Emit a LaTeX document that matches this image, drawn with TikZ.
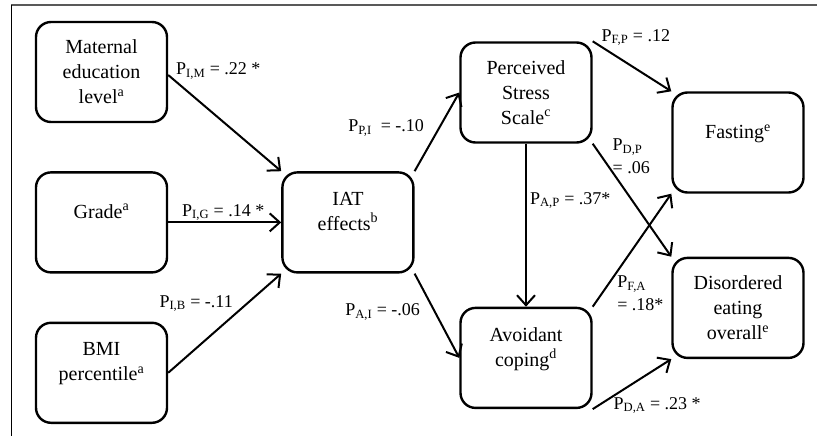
\documentclass[tikz,border=0pt]{standalone}
\usepackage{fontspec}
\setmainfont{Liberation Serif}
\usetikzlibrary{arrows.meta,positioning}

\begin{document}
\begin{tikzpicture}[
    x=1pt, y=1pt,
    >={Straight Barb[length=10pt, width=18pt]},
    link/.style={->, line width=2pt},
    var/.style={
        draw,
        rounded corners=15pt,
        align=center,
        minimum width=131pt,
        minimum height=100pt,
        inner sep=2pt,
        line width=2.4pt,
        font=\fontsize{20}{25}\selectfont
    },
    raised/.style={
        var,
        text depth=22pt
    },
    coef/.style={
        inner sep=0pt,
        align=left,
        font=\fontsize{18}{23}\selectfont
    }
]
\useasboundingbox (0,0) rectangle (817,-436);

% frame
\draw[black!65, line width=1.8pt] (11,-5) -- (817,-5);
\draw[line width=1pt] (11.5,-5) -- (11.5,-436);

% predictors
\node[var] (mat) at (101.5,-72) {Maternal\\education\\level\textsuperscript{a}};
\node[raised, below=48pt of mat] (grade) {Grade\textsuperscript{a}};
\node[raised, below=48pt of grade] (bmi) {BMI\\percentile\textsuperscript{a}};

% mediators
\node[raised, right=113pt of grade] (iat) {IAT\\effects\textsuperscript{b}};
\node[var] (pss) at (526,-92.5) {Perceived\\Stress\\Scale\textsuperscript{c}};
\node[raised, below=163pt of pss] (avoid) {Avoidant\\coping\textsuperscript{d}};

% outcomes
\node[raised] (fast) at (738,-142.5) {Fasting\textsuperscript{e}};
\node[var, below=63pt of fast] (dis) {Disordered\\eating\\overall\textsuperscript{e}};

% paths into IAT
\draw[link] ([yshift=-3pt]mat.east) --
node[coef, pos=0, anchor=base west, xshift=7pt] {P\textsubscript{I,M} = .22 *}
(iat.north west);
\draw[link] (grade) --
node[coef, pos=0, anchor=base west, xshift=13pt, yshift=6pt] {P\textsubscript{I,G} = .14 *}
(iat);
\draw[link] (bmi.east) --
node[coef, pos=0.66, anchor=base east, xshift=-9pt] {P\textsubscript{I,B} = -.11}
(iat.south west);

% paths out of IAT
\draw[link] (iat.north east) --
node[coef, pos=0.5, anchor=base east, xshift=-12pt] {P\textsubscript{P,I}\ \ = -.10}
(pss.west);
\draw[link] (iat.south east) --
node[coef, pos=0.5, anchor=base east, xshift=-16pt] {P\textsubscript{A,I} = -.06}
(avoid.west);

\draw[link] (pss) --
node[coef, pos=0.37, anchor=base west, xshift=3pt] {P\textsubscript{A,P} = .37*}
(avoid);

% paths to outcomes
\draw[link] (pss.north east) --
node[coef, pos=0, anchor=base west, xshift=8pt] {P\textsubscript{F,P} = .12}
(fast.north west);
\draw[link] (pss.south east) --
node[coef, pos=0, anchor=north west, xshift=19pt, yshift=6pt] {P\textsubscript{D,P}\\= .06}
(dis.north west);
\draw[link] (avoid.north east) --
node[coef, pos=0.3, anchor=north west, yshift=-2pt] {P\textsubscript{F,A}\\= .18*}
(fast.south west);
\draw[link] (avoid.south east) --
node[coef, pos=0, anchor=base west, xshift=20pt] {P\textsubscript{D,A} = .23 *}
(dis.south west);

\end{tikzpicture}
\end{document}
